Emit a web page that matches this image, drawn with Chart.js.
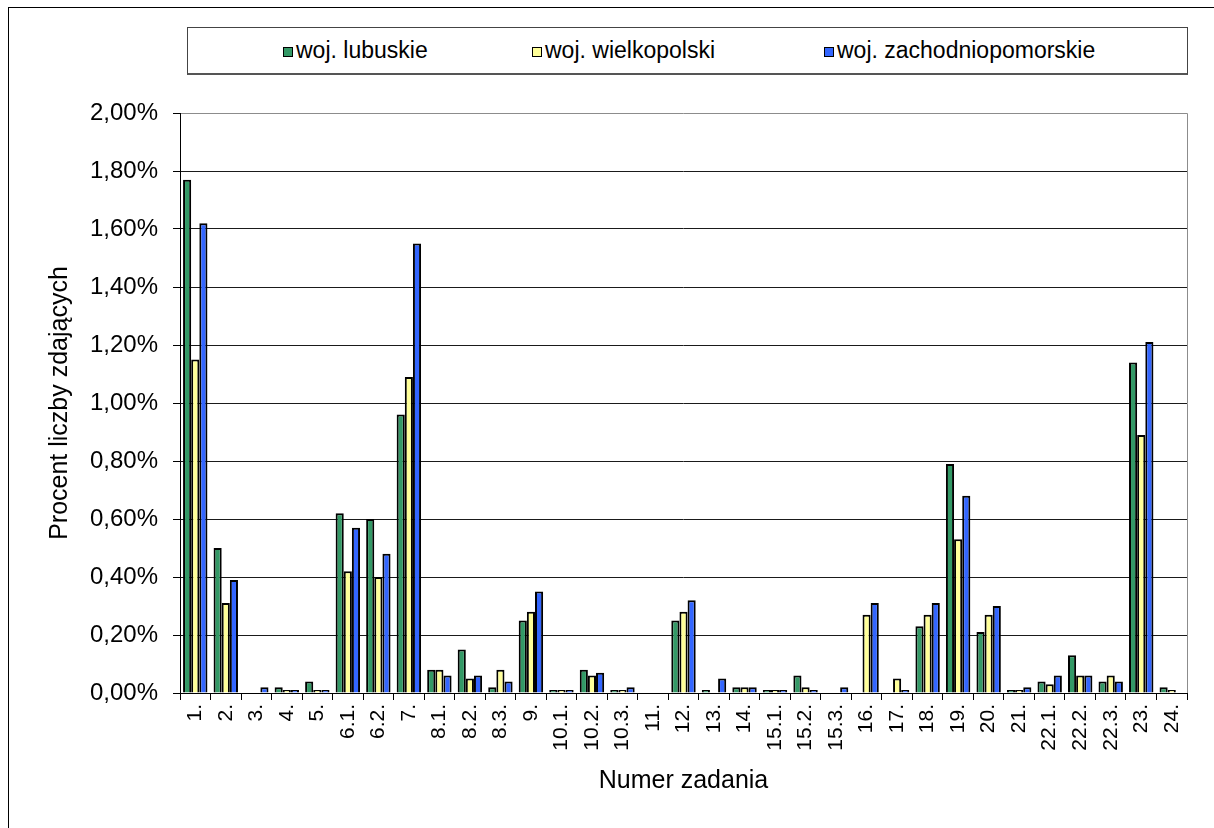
<!DOCTYPE html>
<html lang="pl">
<head>
<meta charset="UTF-8">
<title>Procent liczby zdających</title>
<script src="https://cdn.jsdelivr.net/npm/chart.js"></script>
<style>
html,body{margin:0;padding:0;background:#fff;overflow:hidden;}
body{width:1214px;height:828px;position:relative;font-family:"Liberation Sans",Arial,sans-serif;}
.frame{
    position:absolute;left:8px;top:7px;width:1400px;height:1000px;
    border:1px solid #000;
}
#chartBox{position:absolute;left:0;top:0;width:1214px;height:828px;}
.legend{
    position:absolute;left:187px;top:27px;width:999px;height:45px;
    border:1px solid #444;border-bottom:2px solid #555;background:#fff;
    font-size:23px;color:#000;
}
.legend span.item{position:absolute;top:9px;white-space:nowrap;}
.legend i{
    display:inline-block;width:8px;height:8px;border:1px solid #000;
    margin-right:3px;vertical-align:1px;
}
</style>
</head>
<body>

<div class="frame"></div>
<div id="chartBox"><canvas id="chart" width="1214" height="828"></canvas></div>
<div class="legend" id="legend"></div>

<script>

const categories = ['1.','2.','3.','4.','5.','6.1.','6.2.','7.','8.1.','8.2.','8.3.','9.','10.1.','10.2.','10.3.','11.','12.','13.','14.','15.1.','15.2.','15.3.','16.','17.','18.','19.','20.','21.','22.1.','22.2.','22.3.','23.','24.'];

const lubuskie = [1.77,0.50,0,0.02,0.04,0.62,0.60,0.96,0.08,0.15,0.02,0.25,0.01,0.08,0.01,0,0.25,0.01,0.02,0.01,0.06,0,0,0,0.23,0.79,0.21,0.01,0.04,0.13,0.04,1.14,0.02];
const wielkopolski = [1.15,0.31,0,0.01,0.01,0.42,0.40,1.09,0.08,0.05,0.08,0.28,0.01,0.06,0.01,0,0.28,0,0.02,0.01,0.02,0,0.27,0.05,0.27,0.53,0.27,0.01,0.03,0.06,0.06,0.89,0.01];
const zachodniopomorskie = [1.62,0.39,0.02,0.01,0.01,0.57,0.48,1.55,0.06,0.06,0.04,0.35,0.01,0.07,0.02,0,0.32,0.05,0.02,0.01,0.01,0.02,0.31,0.01,0.31,0.68,0.30,0.02,0.06,0.06,0.04,1.21,0];

const seriesNames = ['woj. lubuskie','woj. wielkopolski','woj. zachodniopomorskie'];
const seriesColors = ['#339966','#FFFF99','#3366FF'];

const yMax = 2.0;
const yStep = 0.2;

const FONT = '"Liberation Sans", Arial, sans-serif';

// html legend, one entry per series
const legendX = [95,344,636];
const legendEl = document.getElementById('legend');
seriesNames.forEach((name,i)=>{
    const s = document.createElement('span');
    s.className = 'item';
    s.style.left = legendX[i]+'px';
    s.innerHTML = `<i style="background:${seriesColors[i]}"></i>${name}`;
    legendEl.appendChild(s);
});

// grey frame around the plot area
const plotFrame = {
    id:'plotFrame',
    afterDraw(chart){
        const a = chart.chartArea, c = chart.ctx;
        c.save();
        c.strokeStyle = '#8c8c8c';
        c.lineWidth = 1;
        c.beginPath();
        c.moveTo(a.left, a.top+0.5);
        c.lineTo(a.right+0.5, a.top+0.5);
        c.lineTo(a.right+0.5, a.bottom);
        c.stroke();
        c.strokeStyle = '#000';
        c.beginPath();
        c.moveTo(a.left+0.5, a.top);
        c.lineTo(a.left+0.5, a.bottom+0.5);
        c.lineTo(a.right, a.bottom+0.5);
        c.stroke();
        c.restore();
    }
};

const allData = [lubuskie, wielkopolski, zachodniopomorskie];

new Chart(document.getElementById('chart'),{
    type:'bar',
    data:{
        labels:categories,
        datasets:allData.map((d,i)=>({
            label:seriesNames[i],
            data:d,
            backgroundColor:seriesColors[i],
            borderColor:'#000',
            borderWidth:2,
            categoryPercentage:0.8,
            barPercentage:1.0
        }))
    },
    options:{
        responsive:false,
        animation:false,
        devicePixelRatio:1,
        layout:{padding:{left:0,top:113,right:27,bottom:0}},
        plugins:{legend:{display:false},tooltip:{enabled:false}},
        scales:{
            x:{
                afterFit(scale){scale.height = 135;},
                border:{display:false},
                grid:{
                    offset:true,
                    drawOnChartArea:false,
                    drawTicks:true,
                    tickLength:7,
                    color:'#000'
                },
                ticks:{
                    autoSkip:false,
                    maxRotation:90,
                    minRotation:90,
                    padding:4,
                    color:'#000',
                    font:{family:FONT,size:21}
                },
                title:{
                    display:true,
                    text:'Numer zadania',
                    color:'#000',
                    font:{family:FONT,size:25},
                    padding:{top:0,bottom:32}
                }
            },
            y:{
                min:0,
                max:yMax,
                afterFit(scale){scale.width = 180;},
                border:{display:false},
                grid:{
                    color:ctx => (ctx.tick && ctx.tick.value === yMax) ? 'rgba(0,0,0,0)' : '#1a1a1a',
                    tickColor:'#000',
                    tickLength:7,
                    drawTicks:true
                },
                ticks:{
                    stepSize:yStep,
                    padding:15,
                    color:'#000',
                    font:{family:FONT,size:24},
                    callback:v => v.toFixed(2).replace('.',',')+'%'
                },
                title:{
                    display:true,
                    text:'Procent liczby zdających',
                    color:'#000',
                    font:{family:FONT,size:25},
                    padding:{top:45,bottom:0}
                }
            }
        }
    },
    plugins:[plotFrame]
});

</script>
</body>
</html>
